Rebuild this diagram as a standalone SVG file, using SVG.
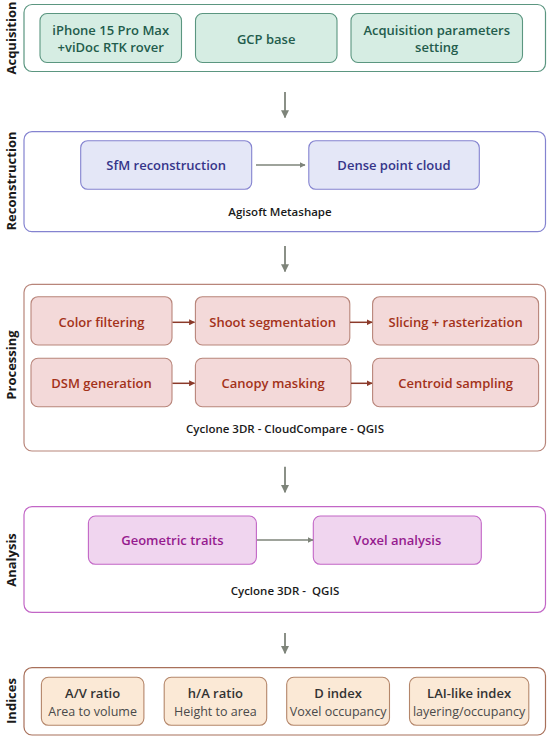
<svg xmlns="http://www.w3.org/2000/svg" width="550" height="741" viewBox="0 0 550 741">
<style>
text{font-family:"Open Sans","Noto Sans","Liberation Sans",sans-serif;text-anchor:middle;dominant-baseline:central}
.side{font-size:13px;font-weight:700;fill:#1a1a1a}
.cont{fill:#fff;stroke-width:1.2}
.box{stroke-width:1.1}
.t{font-size:13px;font-weight:600}
.tool{font-size:11.5px;font-weight:600;fill:#1a1a1a}
.acq .box{fill:#d6ede3;stroke:#5b9680}.acq .t{fill:#235c4c}.acq .cont{stroke:#5b9680}
.rec .box{fill:#e4e7f7;stroke:#8483d0}.rec .t{fill:#35358a}.rec .cont{stroke:#8483d0}
.pro .box{fill:#f3d9d9;stroke:#b8857a}.pro .t{fill:#a3321a}.pro .cont{stroke:#b8857a}
.ana .box{fill:#f0d5ef;stroke:#c266c6}.ana .t{fill:#961b8e}.ana .cont{stroke:#c266c6}
.ind .box{fill:#fbe9d6;stroke:#b4866a}.ind .t{fill:#333}.ind .cont{stroke:#a8705a}
.sub{font-size:12.5px;font-weight:400;fill:#4a4a4a}
.gray{stroke:#7e847a;stroke-width:1.8;fill:none}
.grayh{stroke:#7e847a;stroke-width:1.3;fill:none}
.red{stroke:#8b3a2a;stroke-width:1.5;fill:none}
</style>
<defs>
<marker id="ag" viewBox="0 0 10 10" refX="9" refY="5" markerWidth="6" markerHeight="6" orient="auto" markerUnits="userSpaceOnUse"><path d="M0,0 L10,5 L0,10 z" fill="#7e847a"/></marker>
<marker id="agb" viewBox="0 0 10 10" refX="9" refY="5" markerWidth="8" markerHeight="8" orient="auto" markerUnits="userSpaceOnUse"><path d="M0,0 L10,5 L0,10 z" fill="#7e847a"/></marker>
<marker id="ar" viewBox="0 0 10 10" refX="9" refY="5" markerWidth="6" markerHeight="6" orient="auto" markerUnits="userSpaceOnUse"><path d="M0,0 L10,5 L0,10 z" fill="#8b3a2a"/></marker>
</defs>

<g id="acquisition" class="acq">
<rect class="cont" x="24" y="4.5" width="521.5" height="67" rx="8"/>
<text class="side" transform="translate(11,38) rotate(-90)">Acquisition</text>
<g id="n-iphone"><rect class="box" x="40" y="13.5" width="141.5" height="49" rx="7"/>
<text class="t" x="110.7" y="30">iPhone 15 Pro Max</text><text class="t" x="110.7" y="47">+viDoc RTK rover</text></g>
<g id="n-gcp"><rect class="box" x="195.5" y="13.5" width="141.5" height="49" rx="7"/>
<text class="t" x="266.2" y="38.5">GCP base</text></g>
<g id="n-params"><rect class="box" x="351" y="13.5" width="171.5" height="49" rx="7"/>
<text class="t" x="436.7" y="30">Acquisition parameters</text><text class="t" x="436.7" y="47">setting</text></g>
</g>

<g id="reconstruction" class="rec">
<rect class="cont" x="24" y="131.7" width="521.5" height="100" rx="8"/>
<text class="side" transform="translate(11,181) rotate(-90)">Reconstruction</text>
<g id="n-sfm"><rect class="box" x="80.7" y="140.7" width="171" height="48.6" rx="7"/>
<text class="t" x="166.2" y="165">SfM reconstruction</text></g>
<g id="n-dense"><rect class="box" x="308.8" y="140.7" width="170.5" height="48.6" rx="7"/>
<text class="t" x="394" y="165">Dense point cloud</text></g>
<text class="tool" x="280" y="211">Agisoft Metashape</text>
</g>

<g id="processing" class="pro">
<rect class="cont" x="24" y="284.3" width="521.5" height="166.7" rx="8"/>
<text class="side" transform="translate(11,365) rotate(-90)">Processing</text>
<g id="n-color"><rect class="box" x="31" y="296.7" width="141" height="48.3" rx="7"/>
<text class="t" x="101.5" y="321.7">Color filtering</text></g>
<g id="n-shoot"><rect class="box" x="195.4" y="296.7" width="154.4" height="48.3" rx="7"/>
<text class="t" x="272.6" y="321.7">Shoot segmentation</text></g>
<g id="n-slice"><rect class="box" x="372.6" y="296.7" width="166" height="48.3" rx="7"/>
<text class="t" x="455.6" y="321.7">Slicing + rasterization</text></g>
<g id="n-dsm"><rect class="box" x="31" y="358.3" width="141" height="48.4" rx="7"/>
<text class="t" x="101.5" y="383.3">DSM generation</text></g>
<g id="n-canopy"><rect class="box" x="195.4" y="358.3" width="155.5" height="48.4" rx="7"/>
<text class="t" x="273.1" y="383.3">Canopy masking</text></g>
<g id="n-centroid"><rect class="box" x="372.6" y="358.3" width="166" height="48.4" rx="7"/>
<text class="t" x="455.6" y="383.3">Centroid sampling</text></g>
<text class="tool" x="285" y="428.3">Cyclone 3DR - CloudCompare - QGIS</text>
</g>

<g id="analysis" class="ana">
<rect class="cont" x="24" y="506.7" width="521.5" height="105.6" rx="8"/>
<text class="side" transform="translate(11,560) rotate(-90)">Analysis</text>
<g id="n-geom"><rect class="box" x="88.4" y="516" width="168" height="48.3" rx="7"/>
<text class="t" x="172.4" y="540">Geometric traits</text></g>
<g id="n-voxel"><rect class="box" x="313.3" y="516" width="168" height="48.3" rx="7"/>
<text class="t" x="397.3" y="540">Voxel analysis</text></g>
<text class="tool" x="285" y="590" xml:space="preserve">Cyclone 3DR -  QGIS</text>
</g>

<g id="indices" class="ind">
<rect class="cont" x="24" y="667.7" width="521.5" height="67.3" rx="8"/>
<text class="side" transform="translate(11,701) rotate(-90)">Indices</text>
<g id="n-av"><rect class="box" x="41.4" y="677.3" width="102.5" height="48" rx="7"/>
<text class="t" x="92.6" y="693.3">A/V ratio</text><text class="sub" x="92.6" y="711">Area to volume</text></g>
<g id="n-ha"><rect class="box" x="164.2" y="677.3" width="102.5" height="48" rx="7"/>
<text class="t" x="215.4" y="693.3">h/A ratio</text><text class="sub" x="215.4" y="711">Height to area</text></g>
<g id="n-d"><rect class="box" x="286.7" y="677.3" width="102.8" height="48" rx="7"/>
<text class="t" x="338.1" y="693.3">D index</text><text class="sub" x="338.1" y="711">Voxel occupancy</text></g>
<g id="n-lai"><rect class="box" x="409.5" y="677.3" width="119.3" height="48" rx="7"/>
<text class="t" x="469.1" y="693.3">LAI-like index</text><text class="sub" x="469.1" y="711">layering/occupancy</text></g>
</g>

<g id="connectors">
<line class="gray" x1="285" y1="92" x2="285" y2="117.5" marker-end="url(#agb)"/>
<line class="gray" x1="285" y1="246" x2="285" y2="271.5" marker-end="url(#agb)"/>
<line class="gray" x1="285" y1="466.7" x2="285" y2="492.3" marker-end="url(#agb)"/>
<line class="gray" x1="285" y1="633" x2="285" y2="653.3" marker-end="url(#agb)"/>
<line class="grayh" x1="256" y1="165" x2="305" y2="165" marker-end="url(#ag)"/>
<line class="grayh" x1="257" y1="540" x2="313" y2="540" marker-end="url(#ag)"/>
<line class="red" x1="172.5" y1="322.3" x2="194.5" y2="322.3" marker-end="url(#ar)"/>
<line class="red" x1="350" y1="322.3" x2="372" y2="322.3" marker-end="url(#ar)"/>
<line class="red" x1="172.5" y1="383.3" x2="194.5" y2="383.3" marker-end="url(#ar)"/>
<line class="red" x1="351" y1="383.3" x2="372" y2="383.3" marker-end="url(#ar)"/>
</g>
</svg>
